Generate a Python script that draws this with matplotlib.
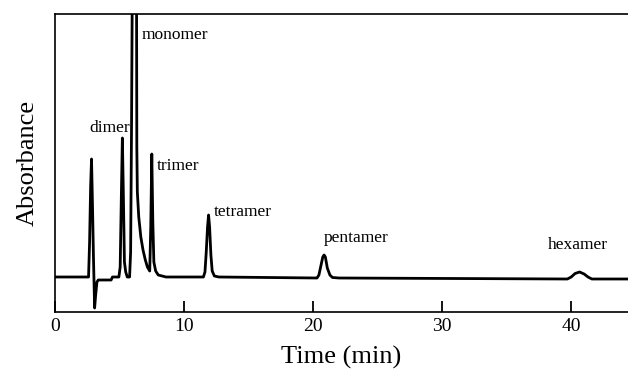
#!/usr/bin/env python3
"""Chromatogram of oligomer separation: absorbance vs. retention time."""
import matplotlib
matplotlib.use('Agg')
from matplotlib import pyplot as plt

# Trace (time in min, absorbance in arbitrary units,
# baseline = 0). The monomer peak runs off the top of the frame.
time_min = [
    0.0, 2.6, 2.68, 2.76, 2.83, 2.9, 2.98, 3.07, 3.15, 3.25, 3.35, 4.35, 4.45,
    4.95, 5.05, 5.14, 5.22, 5.3, 5.38, 5.48, 5.6, 5.78,
    5.86, 5.93, 5.98, 6.15, 6.32, 6.34, 6.38, 6.49, 6.65, 6.82, 7.0, 7.16, 7.34,
    7.42, 7.5, 7.58, 7.66, 7.8, 8.0, 8.6,
    11.5, 11.62, 11.72, 11.82, 11.9, 11.98, 12.08, 12.18, 12.35, 12.7,
    20.3, 20.45, 20.6, 20.75, 20.85, 20.95, 21.1, 21.3, 21.5, 22.0,
    39.7, 40.0, 40.3, 40.65, 41.0, 41.3, 41.6, 44.4,
]
absorbance = [
    0.0, 0.0, 0.35, 0.9, 1.18, 0.75, 0.2, -0.31, -0.18, -0.05, -0.03, -0.03, 0.0,
    0.0, 0.1, 0.8, 1.39, 0.8, 0.15, 0.05, 0.0, 0.0,
    0.25, 1.5, 2.7, 5.0, 2.7, 1.3, 0.85, 0.6, 0.4, 0.27, 0.17, 0.1, 0.06,
    0.5, 1.23, 0.55, 0.15, 0.06, 0.02, 0.0,
    0.0, 0.05, 0.25, 0.5, 0.62, 0.5, 0.22, 0.06, 0.01, 0.0,
    -0.01, 0.02, 0.11, 0.2, 0.22, 0.2, 0.09, 0.02, -0.005, -0.01,
    -0.02, 0.0, 0.035, 0.05, 0.03, 0.0, -0.02, -0.02,
]

# Peak labels and where they sit (left edge, vertical centre)
peak_names = ['dimer', 'monomer', 'trimer', 'tetramer', 'pentamer', 'hexamer']
label_x = [2.7, 6.69, 7.85, 12.28, 20.85, 38.2]
label_y = [1.49, 2.42, 1.11, 0.65, 0.39, 0.32]

x_ticks = [0, 10, 20, 30, 40]

plt.rcParams['font.family'] = ['Liberation Serif', 'DejaVu Serif']

fig = plt.figure(figsize=(6.28, 3.78), dpi=100)
ax = fig.add_axes([55 / 628, 1 - 312 / 378, 1 - 55 / 628, (312 - 14) / 378])

ax.plot(time_min, absorbance, color='black', linewidth=2.0,
        solid_joinstyle='round', solid_capstyle='round')

for name, lx, ly in zip(peak_names, label_x, label_y):
    ax.text(lx, ly, name, fontsize=12.5, ha='left', va='center')

ax.set_xlim(0, 44.4)
ax.set_ylim(-0.35, 2.63)
ax.set_xticks(x_ticks)
ax.set_yticks([])
ax.tick_params(axis='x', direction='in', length=8, width=1.3, labelsize=14, pad=4)
for side in ('left', 'bottom', 'top'):
    ax.spines[side].set_linewidth(1.2)
ax.spines['right'].set_visible(False)

ax.set_xlabel('Time (min)', fontsize=19, labelpad=8)
ax.set_ylabel('Absorbance', fontsize=19, labelpad=12)

fig.savefig('out.png', dpi=100)
plt.close(fig)
